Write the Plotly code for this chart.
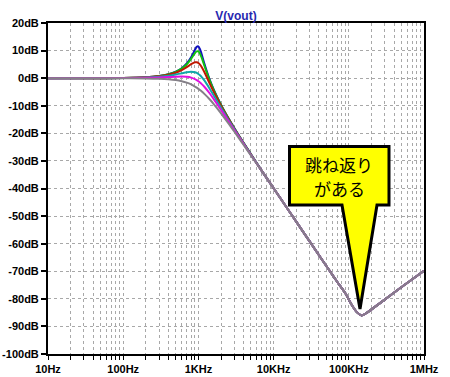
import plotly.graph_objects as go

# Frequencies (Hz) where the stepped curves differ
freq_low = [10, 100, 200, 300, 400, 500, 600, 700, 800, 900, 950, 1000, 1050,
            1100, 1200, 1400, 1600, 2000, 2500, 3000, 4000, 5000]
# Frequencies (Hz) where all curves coincide
freq_high = [7000, 10000, 15000, 20000, 30000, 50000, 70000, 90000, 110000,
             130000, 148000, 175000, 220000, 300000, 450000, 700000, 1000000]
db_high = [-33.7, -39.9, -47.0, -52.0, -59.1, -68.0, -73.8, -78.0, -82.3,
           -85.0, -86.0, -85.0, -83.0, -80.3, -76.7, -72.9, -69.8]

db_blue = [0, 0.08, 0.34, 0.79, 1.45, 2.36, 3.61, 5.31, 7.57, 10.30, 11.35, 11.50, 10.53,
           8.87, 5.29, -0.25, -4.17, -9.68, -14.47, -18.10, -23.54, -27.62]
db_green = [0, 0.08, 0.33, 0.77, 1.41, 2.30, 3.48, 5.05, 7.02, 9.09, 9.73, 9.69, 8.89,
            7.59, 4.58, -0.54, -4.33, -9.75, -14.51, -18.13, -23.55, -27.62]
db_red = [0, 0.07, 0.30, 0.69, 1.24, 1.98, 2.91, 3.99, 5.08, 5.76, 5.77, 5.48, 4.92,
          4.13, 2.21, -1.69, -4.99, -10.06, -14.67, -18.23, -23.61, -27.66]
db_cyan = [0, 0.06, 0.22, 0.50, 0.87, 1.31, 1.78, 2.17, 2.35, 2.16, 1.89, 1.51, 1.03,
           0.46, -0.83, -3.63, -6.28, -10.73, -15.05, -18.47, -23.73, -27.74]
db_magenta = [0, 0.03, 0.12, 0.25, 0.40, 0.53, 0.58, 0.49, 0.20, -0.34, -0.70, -1.11, -1.57,
              -2.06, -3.12, -5.38, -7.59, -11.51, -15.52, -18.79, -23.90, -27.84]
db_gray = [0, -0.02, -0.08, -0.20, -0.40, -0.69, -1.10, -1.63, -2.28, -3.04, -3.45, -3.88, -4.32,
           -4.77, -5.69, -7.56, -9.39, -12.73, -16.32, -19.34, -24.22, -28.04]

x_tickvals = [10, 100, 1000, 10000, 100000, 1000000]
x_ticktext = ["10Hz", "100Hz", "1KHz", "10KHz", "100KHz", "1MHz"]
y_tickvals = [20, 10, 0, -10, -20, -30, -40, -50, -60, -70, -80, -90, -100]
y_ticktext = [f"{v}dB" for v in y_tickvals]
callout_lines = ["跳ね返り", "がある"]

series = [
    (db_blue, "#1010c0"),
    (db_green, "#10c010"),
    (db_red, "#c01800"),
    (db_cyan, "#10a8a8"),
    (db_magenta, "#e010e0"),
    (db_gray, "#858088"),
]

fig = go.Figure()
for db, col in series:
    fig.add_trace(go.Scatter(
        x=freq_low + freq_high, y=db + db_high, mode="lines",
        line=dict(color=col, width=2, shape="spline", smoothing=0.8),
        showlegend=False, hoverinfo="skip"))

tickfont = dict(family="Liberation Sans, Arial", size=11, color="black", weight=700)
grid = dict(gridcolor="#a8a8a8", griddash="dot", gridwidth=1)

fig.update_xaxes(
    type="log", range=[1, 6], tickvals=x_tickvals, ticktext=x_ticktext,
    ticks="outside", ticklen=4, tickwidth=1, tickcolor="black",
    showline=True, linecolor="black", linewidth=2, mirror=True,
    showgrid=True, **grid, tickfont=tickfont, zeroline=False, automargin=False,
    minor=dict(dtick="D1", showgrid=True, gridcolor="#a8a8a8", griddash="dot",
               ticks="outside", ticklen=4, tickcolor="black"),
)
fig.update_yaxes(
    range=[-100, 20], tickvals=y_tickvals, ticktext=y_ticktext,
    ticks="outside", ticklen=5, tickwidth=2, tickcolor="black",
    showline=True, linecolor="black", linewidth=2, mirror=True,
    showgrid=True, **grid, tickfont=tickfont, zeroline=False, automargin=False,
)

# Callout (yellow speech box) in paper coordinates
def px(x):
    return (x - 48) / 376

def py(y):
    return (354 - y) / 331

pts = [(289.5, 146.5), (389, 146.5), (389, 205), (377, 205), (360, 309),
       (342, 205), (289.5, 205)]
path = "M " + " L ".join(f"{px(a):.4f},{py(b):.4f}" for a, b in pts) + " Z"
fig.add_shape(type="path", path=path, xref="paper", yref="paper",
              fillcolor="#ffff00", line=dict(color="black", width=3), layer="above")

for txt, ypix in zip(callout_lines, [164, 188]):
    fig.add_annotation(x=px(339), y=py(ypix), xref="paper", yref="paper",
                       text=txt, showarrow=False,
                       font=dict(family="Noto Sans CJK JP", size=17, color="black"),
                       xanchor="center", yanchor="middle")

fig.update_layout(
    width=450, height=377,
    margin=dict(l=48, r=26, t=23, b=23, autoexpand=False),
    paper_bgcolor="white", plot_bgcolor="white",
    title=dict(text="V(vout)", x=px(236), xref="paper", y=1 - 15.5 / 377,
               yanchor="middle", xanchor="center",
               font=dict(family="Liberation Sans, Arial", size=12, color="#2828b0", weight=700)),
)

fig.write_html("out.html", config={"displayModeBar": False},
               post_script="document.body.style.margin='0';document.body.style.overflow='hidden';")
